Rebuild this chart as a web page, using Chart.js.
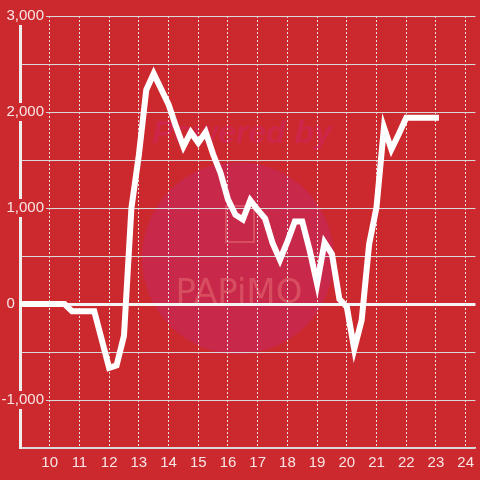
<!DOCTYPE html>
<html>
<head>
<meta charset="utf-8">
<script src="https://cdn.jsdelivr.net/npm/chart.js@4/dist/chart.umd.min.js"></script>
<style>
  html, body { margin: 0; padding: 0; background: #cc292e; }
  #wrap { width: 480px; height: 480px; }
</style>
</head>
<body>
<div id="wrap"><canvas id="chart" width="480" height="480"></canvas></div>
<script>
  // hours of the day (x) and the running value at each point (y)
  const HOURS = [
    9, 10.5, 10.75, 11.5, 12, 12.25, 12.5, 12.75, 13, 13.25, 13.5, 13.75,
    14, 14.25, 14.5, 14.75, 15, 15.25, 15.5, 15.75, 16, 16.25, 16.5, 16.75,
    17, 17.25, 17.5, 17.75, 18, 18.25, 18.5, 18.75, 19, 19.25, 19.5, 19.75,
    20, 20.25, 20.5, 20.75, 21, 21.25, 21.5, 21.75, 22, 22.25, 22.5, 22.75, 23
  ];
  const VALUES = [
    0, 0, -75, -75, -665, -640, -330, 1000, 1550, 2230, 2400, 2240,
    2080, 1850, 1640, 1790, 1680, 1790, 1560, 1365, 1090, 930, 880, 1080,
    980, 890, 635, 460, 650, 860, 860, 560, 210, 640, 520, 50,
    -30, -470, -170, 620, 1010, 1840, 1610, 1770, 1940, 1940, 1940, 1940, 1940
  ];

  const X_MIN = 9;
  const X_MAX = 24.33;
  const Y_MIN = -1500;
  const Y_MAX = 3000;

  const BG = "#cc292e";
  const FONT = "'Liberation Sans', Arial, sans-serif";
  const ZERO_LABEL = "0       ";

  function yLabel(v) {
    if (v === 0) return ZERO_LABEL;
    return v % 1000 === 0 ? v.toLocaleString("en-US") : "";
  }

  // mirrored labels are right-aligned at right + padding + widest,
  // so work out the padding that puts their right edge at x = 44
  function yPadding() {
    const c = document.createElement("canvas").getContext("2d");
    c.font = "15px " + FONT;
    let widest = 0;
    for (let v = Y_MIN; v <= Y_MAX; v += 500) {
      widest = Math.max(widest, c.measureText(yLabel(v)).width);
    }
    return 44 - 20 - widest;
  }

  /* ---------- background + watermark ---------- */

  const backdrop = {
    id: "backdrop",
    beforeDraw(chart) {
      const c = chart.ctx;
      c.save();
      c.fillStyle = BG;
      c.fillRect(0, 0, chart.width, chart.height);

      c.fillStyle = "#c8284a";
      c.beginPath();
      c.arc(238, 258, 96, 0, Math.PI * 2);
      c.fill();

      c.fillStyle = "rgba(205, 38, 80, 0.8)";
      c.font = "italic bold 32px " + FONT;
      c.textAlign = "center";
      c.textBaseline = "alphabetic";
      c.fillText("Powered by", 242, 143);

      c.strokeStyle = "rgba(235, 130, 130, 0.4)";
      c.lineWidth = 2;
      c.strokeRect(226, 206, 28, 36);

      c.fillStyle = "rgba(235, 125, 125, 0.45)";
      c.font = "34px 'DejaVu Sans', sans-serif";
      c.fillText("PAPiMO", 239, 303);
      c.restore();
    }
  };

  /* ---------- chart ---------- */

  const points = HOURS.map((h, i) => ({ x: h, y: VALUES[i] }));

  new Chart(document.getElementById("chart"), {
    type: "line",
    data: {
      datasets: [{
        data: points,
        borderColor: "#ffffff",
        borderWidth: 6,
        borderCapStyle: "square",
        pointRadius: 0,
        tension: 0,
        fill: false
      }]
    },
    options: {
      responsive: false,
      animation: false,
      layout: { padding: { top: 16, right: 0, bottom: 0, left: 0 } },
      plugins: {
        legend: { display: false },
        tooltip: { enabled: false }
      },
      scales: {
        x: {
          type: "linear",
          min: X_MIN,
          max: X_MAX,
          afterFit: s => { s.height = 32; },
          grid: {
            color: "#e2e2e2",
            lineWidth: 1,
            drawTicks: false
          },
          border: { color: "#d8d8d8", width: 1.5, dash: [2, 2] },
          ticks: {
            stepSize: 1,
            includeBounds: false,
            padding: 6,
            color: "rgba(255,255,255,0.88)",
            font: { family: FONT, size: 15 },
            maxRotation: 0,
            autoSkip: false,
            callback: v => (v < 10 ? null : String(v))
          }
        },
        y: {
          min: Y_MIN,
          max: Y_MAX,
          afterFit: s => { s.width = 20; },
          grid: {
            color: ctx => (ctx.tick && ctx.tick.value === 0 ? "#f4f4f4" : "#d9d9d9"),
            lineWidth: ctx => (ctx.tick && ctx.tick.value === 0 ? 3 : 1),
            drawTicks: false
          },
          border: { color: "#eeeeee", width: 3 },
          ticks: {
            stepSize: 500,
            mirror: true,
            crossAlign: "far",
            padding: yPadding(),
            color: "rgba(255,255,255,0.88)",
            font: { family: FONT, size: 15 },
            showLabelBackdrop: ctx => ctx.tick.value % 1000 === 0 && ctx.tick.value !== 0,
            backdropColor: BG,
            backdropPadding: { top: 0, bottom: 0, left: 2, right: 2 },
            callback: yLabel
          }
        }
      }
    },
    plugins: [backdrop]
  });
</script>
</body>
</html>
